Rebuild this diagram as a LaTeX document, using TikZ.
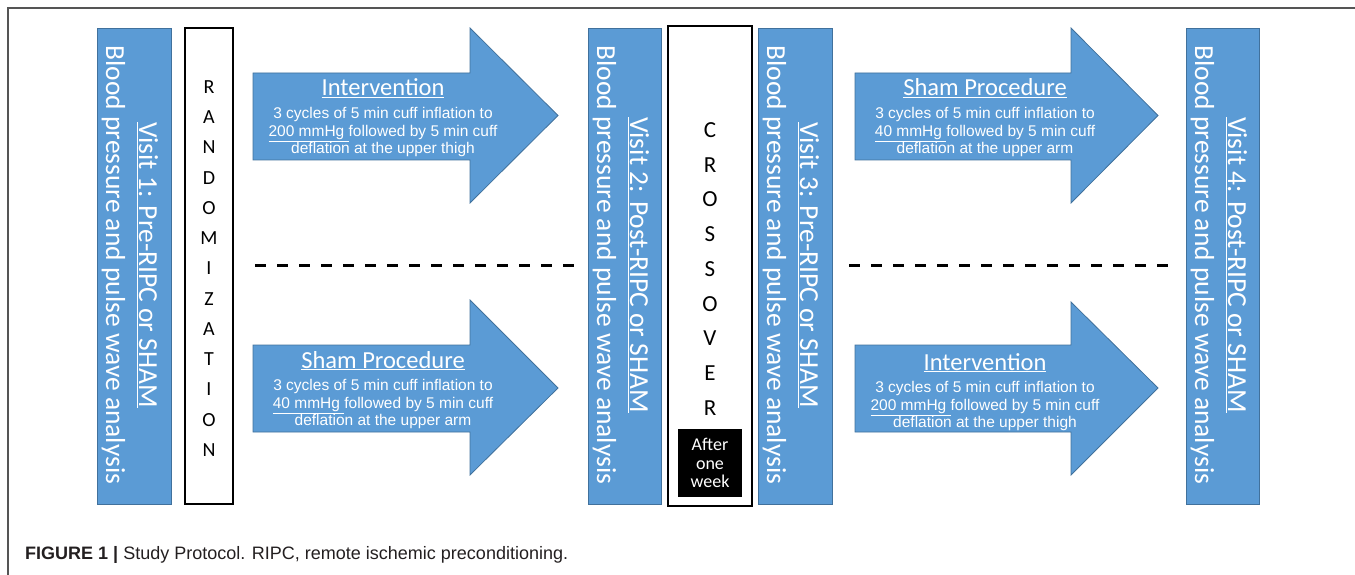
\documentclass[tikz,border=0pt]{standalone}
\usepackage{fontspec}
\setmainfont{Carlito}
\newfontfamily\arialfont{Liberation Sans}
\definecolor{boxblue}{HTML}{5B9BD5}
\definecolor{boxedge}{HTML}{41719C}
\definecolor{captext}{HTML}{231F20}
\definecolor{framegray}{HTML}{555555}
\tikzset{
  framestyle/.style={draw=framegray, line width=1.3pt},
  visitbar/.style={draw=boxedge, fill=boxblue, line width=0.8pt, minimum height=476pt, inner sep=0pt},
  wbox/.style={draw=black, fill=white, line width=1.3pt, inner sep=0pt},
  bluearrow/.style={draw=boxedge, fill=boxblue, line width=0.8pt},
  vtext/.style={rotate=-90, anchor=base, inner sep=0pt, text=white, font=\fontsize{27.5}{33}\selectfont},
  atitle/.style={anchor=base, inner sep=0pt, text=white, font=\fontsize{24.5}{28}\selectfont},
  abody/.style={anchor=north, inner sep=0pt, text=white, align=center, font=\arialfont\fontsize{15.5}{17.5}\selectfont},
  dashline/.style={line width=3pt, dash pattern=on 11pt off 11pt},
  stack/.style={inner sep=0pt, align=center},
}
\begin{document}
\begin{tikzpicture}[x=1pt,y=-1pt]
\useasboundingbox (0,0) rectangle (1355,575);
\coordinate (f1) at (8,575);
\coordinate (f2) at (8,8);
\coordinate (f3) at (1355,8);
\draw[framestyle] (f1) -- (f2) -- (f3);

% visit bars
\node[visitbar, minimum width=74pt] (v1) at (134,266) {};
\node[visitbar, minimum width=73pt] (v2) at (624.5,266) {};
\node[visitbar, minimum width=74pt] (v3) at (795,266) {};
\node[visitbar, minimum width=73pt] (v4) at (1222.5,266) {};

\node[vtext] (v1a) at (139,265) {\underline{Visit 1: Pre-RIPC or SHAM}};
\node[vtext] (v1b) at (106,265) {Blood pressure and pulse wave analysis};
\node[vtext] (v2a) at (630,265) {\underline{Visit 2: Post-RIPC or SHAM}};
\node[vtext] (v2b) at (597,265) {Blood pressure and pulse wave analysis};
\node[vtext] (v3a) at (800,265) {\underline{Visit 3: Pre-RIPC or SHAM}};
\node[vtext] (v3b) at (767,265) {Blood pressure and pulse wave analysis};
\node[vtext] (v4a) at (1228,265) {\underline{Visit 4: Post-RIPC or SHAM}};
\node[vtext] (v4b) at (1195,265) {Blood pressure and pulse wave analysis};

% randomization
\node[wbox, minimum width=48pt, minimum height=476pt] (rand) at (209,266) {};
\node[stack, font=\fontsize{20}{30.25}\selectfont] (randt) at (209,268.5)
  {R\\A\\N\\D\\O\\M\\I\\Z\\A\\T\\I\\O\\N};

% crossover
\node[wbox, minimum width=84pt, minimum height=480pt] (cross) at (710,266) {};
\node[stack, font=\fontsize{23}{34.75}\selectfont] (crosst) at (710,269)
  {C\\R\\O\\S\\S\\O\\V\\E\\R};
\node[fill=black, minimum width=64pt, minimum height=68pt, inner sep=0pt] (week) at (710,463) {};
\node[stack, text=white, font=\fontsize{18}{18.5}\selectfont] (weekt) at (710,463) {After\\one\\week};

% arrows
\draw[bluearrow] (253,73) -- (470,73) -- (470,28) -- (558,115.5) -- (470,203) -- (470,160) -- (253,160) -- cycle;
\draw[bluearrow] (253,345) -- (470,345) -- (470,300) -- (558,388) -- (470,475) -- (470,432) -- (253,432) -- cycle;
\draw[bluearrow] (855,73) -- (1071,73) -- (1071,28) -- (1158,115.5) -- (1071,203) -- (1071,160) -- (855,160) -- cycle;
\draw[bluearrow] (855,345) -- (1071,345) -- (1071,302) -- (1158,388) -- (1071,475) -- (1071,432) -- (855,432) -- cycle;

\node[atitle] (a1t) at (383,96) {\underline{Intervention}};
\node[abody] (a1b) at (383,107.5) {3 cycles of 5 min cuff inflation to\\\underline{200 mmHg\ }followed by 5 min cuff\\deflation at the upper thigh};
\node[atitle] (a2t) at (383,368) {\underline{Sham Procedure}};
\node[abody] (a2b) at (383,379.5) {3 cycles of 5 min cuff inflation to\\\underline{40 mmHg\ }followed by 5 min cuff\\deflation at the upper arm};
\node[atitle] (a3t) at (985,96) {\underline{Sham Procedure}};
\node[abody] (a3b) at (985,107.5) {3 cycles of 5 min cuff inflation to\\\underline{40 mmHg\ }followed by 5 min cuff\\deflation at the upper arm};
\node[atitle] (a4t) at (985,370) {\underline{Intervention}};
\node[abody] (a4b) at (985,381.5) {3 cycles of 5 min cuff inflation to\\\underline{200 mmHg\ }followed by 5 min cuff\\deflation at the upper thigh};

% dashed separators
\coordinate (d1a) at (255,265);
\coordinate (d1b) at (583,265);
\coordinate (d2a) at (849,265);
\coordinate (d2b) at (1172,265);
\draw[dashline] (d1a) -- (d1b);
\draw[dashline] (d2a) -- (d2b);

% caption
\node[anchor=base west, inner sep=0pt, text=captext] (cap) at (25,559)
  {\arialfont\fontsize{18}{22}\selectfont\textbf{FIGURE 1 |} Study Protocol. RIPC, remote ischemic preconditioning.};
\end{tikzpicture}
\end{document}
